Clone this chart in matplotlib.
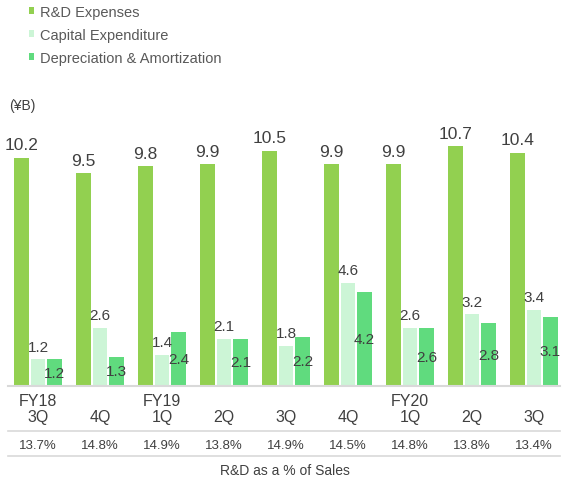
import numpy as np
import matplotlib
matplotlib.use("Agg")
import matplotlib.pyplot as plt
from matplotlib.lines import Line2D
from matplotlib.transforms import blended_transform_factory

plt.rcParams['font.family'] = ['Liberation Sans', 'DejaVu Sans']

quarters = ["FY18\n3Q", "\n4Q", "FY19\n1Q", "\n2Q", "\n3Q", "\n4Q", "FY20\n1Q", "\n2Q", "\n3Q"]
rnd = [10.2, 9.5, 9.8, 9.9, 10.5, 9.9, 9.9, 10.7, 10.4]
capex = [1.2, 2.6, 1.4, 2.1, 1.8, 4.6, 2.6, 3.2, 3.4]
dna = [1.2, 1.3, 2.4, 2.1, 2.2, 4.2, 2.6, 2.8, 3.1]
pct_sales = ["13.7%", "14.8%", "14.9%", "13.8%", "14.9%", "14.5%", "14.8%", "13.8%", "13.4%"]

c_rnd = "#92D050"
c_capex = "#CCF5D6"
c_dna = "#60DB7E"
txt = "#404040"
grid = "#D9D9D9"

W, H = 562, 481
fig = plt.figure(figsize=(W / 100, H / 100), dpi=100)
ax = fig.add_axes([8 / W, (H - 387) / H, 552 / W, 287 / H])

x = np.arange(len(rnd))
w = 0.24
step = 0.266
b1 = ax.bar(x - step, rnd, w, color=c_rnd, label="R&D Expenses")
b2 = ax.bar(x, capex, w, color=c_capex, label="Capital Expenditure")
b3 = ax.bar(x + step, dna, w, color=c_dna, label="Depreciation & Amortization")

ax.bar_label(b1, fmt="%.1f", padding=4, fontsize=12.5, color=txt)
ax.bar_label(b2, fmt="%.1f", padding=4, fontsize=11, color=txt)
ax.bar_label(b3, fmt="%.1f", label_type="center", fontsize=11, color=txt)

ax.set_xlim(-0.484, 8.419)
ax.set_ylim(0, 287 / 22.4)
ax.set_yticks([])
ax.set_xticks(x)
ax.set_xticklabels(quarters, fontsize=11.5, color=txt, linespacing=1.05)
ax.tick_params(axis="x", length=0, pad=5)
for s in ["top", "left", "right"]:
    ax.spines[s].set_visible(False)
ax.spines["bottom"].set_color(grid)
ax.spines["bottom"].set_linewidth(1.5)

# percent of sales row
tr = blended_transform_factory(ax.transData, fig.transFigure)
for xi, p in zip(x, pct_sales):
    ax.text(xi, 1 - 446 / H, p, transform=tr, ha="center", va="center",
            fontsize=9.5, color=txt)
for yy in [432, 457]:
    fig.add_artist(Line2D([8 / W, 560 / W], [1 - yy / H, 1 - yy / H],
                          color=grid, lw=1.2))
fig.text(285 / W, 1 - 471 / H, "R&D as a % of Sales", ha="center", va="center",
         fontsize=10, color=txt)

fig.text(9 / W, 1 - 106 / H, "(¥B)", ha="left", va="center", fontsize=10, color=txt)

fig.legend(handles=[b1, b2, b3], loc="upper left", bbox_to_anchor=(29 / W, 1 - 6 / H),
           frameon=False, fontsize=10.5, handlelength=0.35, handleheight=0.35,
           handletextpad=0.4, labelspacing=0.62, borderpad=0, borderaxespad=0,
           labelcolor="#595959")

fig.savefig("out.png", dpi=100)
